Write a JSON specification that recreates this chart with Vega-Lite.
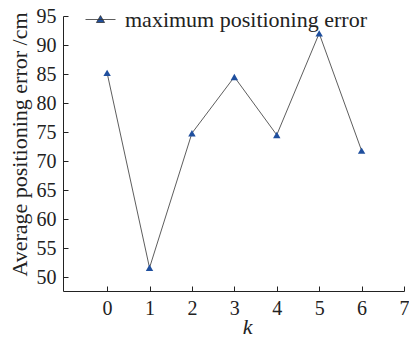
{
  "$schema": "https://vega.github.io/schema/vega-lite/v6.json",
  "width": 341,
  "height": 275,
  "autosize": {"type": "none"},
  "padding": {"left": 63, "top": 16, "right": 5, "bottom": 46},
  "background": "white",
  "config": {
    "view": {"stroke": null},
    "font": "Liberation Serif",
    "axis": {
      "domainColor": "#222",
      "tickColor": "#222",
      "grid": false,
      "labelFont": "Liberation Serif",
      "labelFontSize": 20,
      "labelColor": "#222",
      "titleFont": "Liberation Serif",
      "titleFontSize": 22,
      "titleFontWeight": "normal",
      "titleColor": "#222",
      "tickSize": -5
    }
  },
  "data": {
    "values": [
      {"k": 0, "err": 85.2, "series": "maximum positioning error"},
      {"k": 1, "err": 51.6, "series": "maximum positioning error"},
      {"k": 2, "err": 74.8, "series": "maximum positioning error"},
      {"k": 3, "err": 84.5, "series": "maximum positioning error"},
      {"k": 4, "err": 74.5, "series": "maximum positioning error"},
      {"k": 5, "err": 92.0, "series": "maximum positioning error"},
      {"k": 6, "err": 71.8, "series": "maximum positioning error"}
    ]
  },
  "encoding": {
    "x": {
      "field": "k", "type": "quantitative",
      "scale": {"domain": [-1.04, 7], "nice": false, "zero": false},
      "axis": {"values": [0,1,2,3,4,5,6,7], "title": "k", "titleFontStyle": "italic", "labelPadding": 12, "titleX": 184, "titleY": 25, "titleBaseline": "top", "labelFlush": false}
    },
    "y": {
      "field": "err", "type": "quantitative",
      "scale": {"domain": [47.6, 95], "nice": false, "zero": false},
      "axis": {"values": [50,55,60,65,70,75,80,85,90,95], "title": "Average positioning error /cm", "labelPadding": 12, "titlePadding": 5, "titleY": 128, "labelFlush": false}
    }
  },
  "layer": [
    {
      "mark": {"type": "line", "color": "#333", "strokeWidth": 0.8}
    },
    {
      "mark": {"type": "point", "shape": "triangle-up", "filled": true, "size": 55, "opacity": 1},
      "encoding": {
        "color": {
          "field": "series", "type": "nominal",
          "scale": {"range": ["#1f4f9e"]},
          "legend": {
            "title": null,
            "orient": "none",
            "legendX": 22,
            "legendY": -12,
            "symbolType": "M-1,0H1M0,-0.26L0.27,0.2H-0.27Z",
            "symbolSize": 900,
            "symbolStrokeColor": "#333",
            "symbolStrokeWidth": 0.8,
            "symbolFillColor": "#1f4f9e",
            "labelFont": "Liberation Serif",
            "labelFontSize": 22,
            "labelLimit": 0,
            "labelColor": "#222",
            "labelOffset": 9
          }
        }
      }
    }
  ]
}
